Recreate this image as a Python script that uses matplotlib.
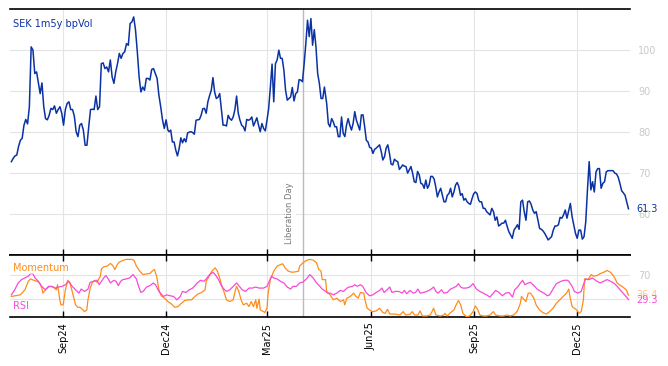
import matplotlib
matplotlib.use('Agg')
import matplotlib.pyplot as plt
import matplotlib.dates as mdates
import numpy as np
import pandas as pd

# SEK 1m5y bp vol in four stretches
vol_a = [72.8, 73.6, 74.2, 74.4, 76.5, 78.0, 78.5, 81.7, 83.1, 82.0, 86.2, 100.8, 100.0, 94.3, 94.7, 92.0,
         89.4, 92.0, 86.2, 83.3, 83.0, 84.1, 85.8, 85.5, 86.4, 84.6, 85.5, 86.2, 84.6, 81.7, 85.5, 87.0,
         87.4, 85.5, 85.5, 83.9, 80.1, 78.9, 81.7, 82.1, 80.5, 76.8, 76.8, 81.3, 85.5, 85.6, 85.5, 88.8,
         85.5, 86.2, 96.7, 96.9, 95.5, 95.9, 94.7, 97.6, 93.5, 91.9, 94.7, 96.7, 99.2, 98.0, 99.2, 99.6,
         101.6, 101.2, 106.5, 106.9, 108.1, 104.9, 99.6, 93.5, 89.8, 91.0, 90.2, 93.1, 93.1, 92.7, 95.3,
         95.5, 94.3, 93.1, 89.0, 86.2, 83.0, 80.9, 83.0, 80.5]
vol_b = [80.1, 80.5, 77.6, 77.6, 75.6, 74.2, 76.0, 78.6, 77.4, 78.4, 77.6, 79.8, 80.0, 80.1, 79.9, 79.5,
         82.9, 83.0, 83.1, 84.1, 85.7, 85.8, 84.6, 87.4, 88.9, 90.2, 93.3, 89.8, 88.2, 88.5, 89.4, 85.5,
         81.7, 81.7, 81.5, 84.1, 83.3, 82.9, 83.7, 85.5, 88.8, 84.6, 82.9, 81.7, 81.3, 80.3, 83.1, 82.9,
         83.1, 83.7, 81.5, 82.5, 83.5, 81.7, 80.1, 82.1, 80.9, 80.3, 82.9, 85.8, 91.0, 96.6, 87.4, 96.7,
         97.6, 100.0, 98.0, 98.0, 95.1, 90.2, 87.8, 88.2, 88.6, 90.9, 87.6, 89.4, 89.8, 92.8, 92.7, 92.3,
         96.7, 101.6, 107.3, 103.3, 107.7, 101.2, 105.0, 100.8, 94.3, 91.9, 88.2, 88.2, 91.0]
vol_c = [87.0, 82.1, 81.3, 83.3, 82.5, 81.3, 81.3, 78.9, 78.9, 83.7, 79.7, 78.9, 81.7, 83.3, 81.7, 80.5,
         82.1, 85.0, 82.9, 81.7, 80.5, 84.2, 84.2, 81.3, 78.0, 77.6, 76.3, 76.1, 74.8, 75.8, 76.1, 76.5,
         76.9, 75.3, 73.2, 74.0, 76.1, 76.9, 74.8, 72.2, 72.0, 73.4, 73.0, 72.8, 70.9, 71.4, 72.0, 71.7,
         71.6, 70.0, 70.8, 71.6, 70.0, 67.9, 67.7, 70.4, 69.6, 67.5, 67.3, 66.3, 68.3, 66.3, 67.1, 69.2,
         69.2, 68.6, 66.7, 64.2, 65.4, 66.3, 64.6, 63.0, 63.0, 64.6, 65.0, 66.3, 64.2, 65.4, 67.1, 67.7,
         66.7, 64.6, 65.0, 63.4, 63.8, 63.0, 62.6, 62.4, 63.8, 65.0, 65.4, 65.0, 63.4]
vol_d = [63.0, 63.0, 61.4, 61.4, 60.6, 60.2, 59.8, 61.4, 60.6, 58.5, 59.3, 57.1, 57.4, 57.8, 57.8, 58.5,
         57.0, 55.7, 54.9, 54.1, 56.1, 56.7, 57.4, 56.3, 63.0, 63.4, 60.6, 58.5, 63.0, 63.2, 62.4, 61.0,
         60.2, 60.6, 58.5, 56.5, 56.3, 55.9, 55.3, 54.5, 53.7, 54.1, 54.5, 56.1, 57.1, 57.1, 57.4, 59.2,
         59.0, 59.8, 61.0, 59.0, 60.8, 62.6, 59.4, 57.4, 55.3, 54.1, 56.1, 56.1, 53.9, 54.5, 58.1, 65.9,
         72.8, 65.9, 67.9, 65.4, 70.3, 71.1, 71.1, 66.3, 67.5, 67.9, 70.3, 70.6, 70.6, 70.6, 70.6, 70.0,
         69.8, 69.0, 67.5, 65.7, 65.2, 64.6, 63.0, 61.3]
vol_spans = [('2024-07-17', '2024-12-03'), ('2024-12-04', '2025-04-21'),
             ('2025-04-23', '2025-09-05'), ('2025-09-06', '2026-01-16')]

# momentum / RSI: days after 2024-07-17 and value
mom_days = [0, 8, 12, 15, 17, 20, 23, 25, 27, 28, 31, 34, 37, 40, 41, 43, 44, 46, 48, 50, 52, 54, 57, 59,
            61, 63, 65, 67, 68, 70, 72, 74, 76, 79, 80, 82, 85, 88, 90, 92, 94, 96, 99, 102, 107, 109,
            111, 114, 117, 120, 123, 125, 127, 129, 131, 133, 136, 139, 142, 145, 148, 151, 154, 157,
            160, 163, 166, 169, 172, 173, 176, 178, 181, 183, 185, 187, 189, 191, 194, 197, 199, 200,
            202, 204, 206, 209, 211, 213, 215, 217, 218, 220, 221, 224, 225, 227, 228, 230, 233, 236,
            239, 241, 243, 246, 249, 252, 255, 256, 259, 262, 265, 268, 271, 273, 275, 276, 279, 280,
            283, 286, 289, 292, 295, 296, 298, 301, 304, 306, 308, 310, 313, 314, 316, 319, 321, 324,
            327, 330, 332, 334, 336, 339, 342, 345, 348, 350, 354, 356, 358, 361, 363, 365, 369, 372,
            375, 377, 381, 384, 385, 387, 390, 393, 395, 397, 399, 401, 404, 407, 410, 412, 414, 416,
            419, 422, 425, 428, 430, 434, 437, 440, 443, 446, 449, 450, 452, 453, 455, 457, 459, 461,
            464, 466, 469, 472, 475, 478, 481, 484, 487, 490, 493, 495, 496, 498, 502, 504, 506, 508,
            509, 512, 515, 517, 520, 523, 526, 529, 532, 535, 538, 540, 543, 546, 548]
mom_vals = [34.4, 37.0, 45.0, 59.0, 63.0, 60.7, 59.0, 56.3, 48.0, 39.8, 46.4, 50.8, 49.7, 45.3, 53.5, 28.9,
            20.7, 20.7, 45.3, 60.7, 56.3, 42.6, 20.7, 16.8, 16.8, 13.5, 9.7, 12.4, 28.9, 48.0, 57.4,
            60.7, 57.4, 67.3, 79.3, 82.6, 83.7, 88.1, 84.8, 78.2, 86.4, 90.3, 93.0, 94.7, 94.7, 93.0,
            83.7, 75.5, 70.0, 71.1, 71.6, 75.5, 78.2, 67.3, 45.3, 35.5, 31.6, 26.1, 22.3, 16.8, 17.9,
            23.4, 27.8, 28.9, 28.9, 34.4, 38.7, 40.9, 45.3, 59.0, 68.4, 75.5, 81.0, 75.5, 64.5, 50.8,
            40.9, 28.9, 26.1, 28.9, 45.3, 50.8, 42.6, 28.9, 20.7, 23.4, 17.9, 26.1, 17.9, 28.9, 15.2,
            30.0, 12.4, 9.7, 8.0, 15.2, 39.8, 61.8, 75.5, 83.7, 86.4, 87.5, 81.0, 75.5, 73.8, 74.4,
            75.5, 83.7, 89.2, 93.0, 94.7, 93.6, 89.2, 78.2, 75.5, 61.8, 61.8, 42.6, 37.0, 28.9, 31.6,
            26.1, 28.9, 20.7, 31.6, 34.4, 39.8, 34.4, 31.6, 40.9, 39.8, 28.9, 15.2, 11.3, 9.7, 10.8,
            15.2, 8.0, 6.9, 13.5, 5.8, 5.8, 5.3, 4.2, 9.7, 4.2, 5.3, 9.7, 4.2, 4.2, 10.8, 2.6, 2.6, 4.2,
            15.2, 4.2, 2.6, 4.2, 6.9, 2.6, 8.0, 12.4, 20.7, 27.8, 20.7, 6.9, 1.5, 2.6, 9.7, 19.0, 13.5,
            4.2, 2.6, 2.6, 4.2, 9.7, 4.2, 2.6, 2.6, 4.2, 2.6, 4.2, 9.7, 13.5, 23.4, 34.4, 30.0, 26.1,
            39.8, 39.8, 31.6, 20.7, 12.4, 8.0, 5.8, 9.7, 15.2, 23.4, 28.9, 34.4, 39.8, 46.4, 34.4, 17.9,
            12.4, 6.9, 9.7, 28.9, 62.9, 61.8, 70.0, 67.3, 68.4, 71.6, 73.8, 76.6, 73.8, 67.3, 56.3,
            53.5, 49.7, 45.3, 36.4]
rsi_days = [0, 3, 6, 9, 12, 15, 17, 19, 21, 24, 27, 30, 33, 36, 39, 42, 45, 48, 51, 54, 57, 60, 62, 65,
            68, 70, 73, 76, 78, 80, 82, 84, 86, 88, 91, 93, 95, 97, 99, 102, 105, 108, 111, 113, 115,
            117, 120, 123, 126, 128, 131, 135, 138, 141, 144, 147, 150, 152, 155, 158, 161, 165, 168,
            171, 173, 176, 179, 181, 184, 186, 188, 191, 194, 197, 200, 202, 205, 208, 211, 214, 217,
            220, 224, 227, 229, 231, 233, 236, 239, 242, 245, 248, 250, 253, 256, 259, 262, 265, 268,
            271, 274, 276, 279, 281, 283, 286, 289, 292, 295, 298, 300, 303, 305, 307, 310, 312, 315,
            318, 321, 324, 327, 329, 331, 333, 336, 338, 341, 344, 347, 349, 351, 354, 357, 359, 361,
            363, 366, 369, 372, 375, 377, 379, 382, 384, 387, 390, 392, 395, 397, 399, 401, 404, 407,
            410, 413, 416, 419, 422, 425, 428, 430, 433, 436, 439, 442, 445, 447, 450, 452, 454, 456,
            459, 461, 464, 467, 470, 473, 476, 478, 481, 484, 488, 491, 494, 495, 498, 500, 503, 506,
            508, 510, 513, 516, 520, 523, 526, 529, 532, 535, 538, 541, 544, 548]
rsi_vals = [37.0, 45.3, 56.3, 61.8, 64.5, 67.3, 71.6, 71.6, 64.5, 59.0, 50.8, 45.3, 50.8, 50.8, 48.0, 49.7,
            50.8, 53.5, 59.0, 50.8, 45.3, 39.8, 46.4, 42.6, 46.4, 57.4, 59.0, 60.7, 53.5, 59.0, 64.5,
            68.4, 62.9, 56.3, 60.7, 59.0, 51.9, 59.0, 61.8, 62.9, 64.5, 70.0, 62.9, 50.8, 40.9, 42.6,
            49.7, 51.9, 56.3, 53.5, 42.6, 34.4, 37.0, 35.5, 34.4, 28.9, 34.4, 42.6, 40.9, 45.3, 48.0,
            56.3, 60.7, 59.0, 62.9, 70.0, 73.8, 70.0, 61.8, 53.5, 48.0, 42.6, 45.3, 50.8, 56.3, 51.9,
            45.3, 42.6, 48.0, 48.0, 49.7, 48.0, 48.0, 50.8, 59.0, 67.3, 64.5, 62.9, 59.0, 56.3, 49.7,
            46.4, 50.8, 50.8, 56.3, 57.9, 62.9, 70.0, 64.5, 56.3, 50.8, 46.4, 42.6, 39.8, 39.8, 37.0,
            39.8, 44.2, 42.6, 48.0, 49.7, 50.8, 53.5, 50.8, 53.5, 50.8, 40.9, 35.5, 37.0, 40.9, 44.2,
            48.0, 40.9, 44.2, 49.7, 40.9, 42.6, 42.6, 39.8, 44.2, 38.7, 44.2, 39.8, 40.9, 46.4, 39.8,
            40.9, 42.6, 45.3, 49.7, 42.6, 39.8, 45.3, 39.8, 40.9, 46.4, 48.0, 50.8, 55.2, 49.7, 48.0,
            48.0, 49.7, 55.2, 46.4, 42.6, 39.8, 37.0, 33.3, 39.8, 44.2, 40.9, 35.5, 39.8, 40.9, 33.3,
            45.3, 50.8, 56.3, 60.7, 53.5, 56.3, 57.4, 51.9, 46.4, 42.6, 39.8, 35.5, 37.0, 46.4, 55.2,
            59.0, 60.7, 60.7, 59.0, 50.8, 42.6, 39.8, 42.6, 53.5, 62.9, 61.8, 64.5, 59.0, 56.3, 59.0,
            61.8, 59.0, 56.3, 50.8, 44.2, 38.2, 29.3]

start = pd.Timestamp('2024-07-17')
liberation = pd.Timestamp('2025-04-02')
tick_dates = ['2024-09-01', '2024-12-01', '2025-03-01', '2025-06-01', '2025-09-01', '2025-12-01']
tick_labels = ['Sep24', 'Dec24', 'Mar25', 'Jun25', 'Sep25', 'Dec25']

vol_dates = []
vol_vals = []
for (a, b), seg in zip(vol_spans, [vol_a, vol_b, vol_c, vol_d]):
    vol_dates += list(pd.date_range(a, b, periods=len(seg)))
    vol_vals += seg
mom_dates = [start + pd.Timedelta(days=d) for d in mom_days]
rsi_dates = [start + pd.Timedelta(days=d) for d in rsi_days]

blue = '#0b32a3'
orange = '#ff8c1a'
pink = '#f74ad8'
grid_c = '#e4e4e4'
lab_c = '#c9c9c9'

fig = plt.figure(figsize=(6.68, 3.66), dpi=100)
ax = fig.add_axes([0.015, 0.303, 0.928, 0.672])
ax2 = fig.add_axes([0.015, 0.134, 0.928, 0.169], sharex=ax)

x0 = mdates.date2num(start)
ticks = [pd.Timestamp(t) for t in tick_dates]

for a in (ax, ax2):
    a.set_xlim(x0 - 1.2, x0 + 549.3)
    a.spines['left'].set_visible(False)
    a.spines['right'].set_visible(False)
    for s in ('top', 'bottom'):
        a.spines[s].set_linewidth(1.2)
    a.set_xticks(ticks)
    a.grid(True, color=grid_c, linewidth=0.8)
    a.set_axisbelow(True)
    a.yaxis.tick_right()
    a.tick_params(axis='y', length=0, pad=6, labelsize=7, labelcolor=lab_c)
    a.axvline(liberation, color='#bbbbbb', linewidth=1.0, zorder=1)

# top panel
ax.plot(vol_dates, vol_vals, color=blue, linewidth=1.1, zorder=3)
ax.set_ylim(50, 110)
ax.set_yticks([60, 70, 80, 90, 100])
ax.tick_params(axis='x', direction='in', length=4, labelbottom=False, width=1)
ax.text(0.005, 0.94, 'SEK 1m5y bpVol', transform=ax.transAxes, color=blue, fontsize=7, va='center')
ax.text(1.011, vol_vals[-1], '%.1f' % vol_vals[-1], transform=ax.get_yaxis_transform(),
        color=blue, fontsize=7, va='center')
ax.annotate('Liberation Day', xy=(liberation, 52.8), xytext=(-9.5, 0), textcoords='offset points',
            rotation=90, ha='center', va='bottom', fontsize=6, color='#777777',
            bbox=dict(facecolor='white', edgecolor='none', pad=1.0), zorder=4)

# bottom panel
ax2.plot(mom_dates, mom_vals, color=orange, linewidth=0.9, zorder=3)
ax2.plot(rsi_dates, rsi_vals, color=pink, linewidth=0.9, zorder=3)
ax2.set_ylim(1, 101.7)
ax2.set_yticks([30, 70])
ax2.set_yticklabels(['', '70'])
ax2.tick_params(axis='x', direction='in', length=4, top=True, width=1,
                labelsize=7, labelrotation=90, pad=4)
ax2.set_xticklabels(tick_labels)
ax2.text(0.005, 0.79, 'Momentum', transform=ax2.transAxes, color=orange, fontsize=7, va='center',
         bbox=dict(facecolor='white', edgecolor='none', alpha=0.6, pad=0.5), zorder=4)
ax2.text(0.005, 0.18, 'RSI', transform=ax2.transAxes, color=pink, fontsize=7, va='center',
         bbox=dict(facecolor='white', edgecolor='none', alpha=0.6, pad=0.5), zorder=4)
ax2.text(1.011, 36.4, '36.4', transform=ax2.get_yaxis_transform(), color='#ffc48a', fontsize=7, va='center')
ax2.text(1.011, 29.3, '29.3', transform=ax2.get_yaxis_transform(), color=pink, fontsize=7, va='center')

fig.savefig('out.png', dpi=100)
